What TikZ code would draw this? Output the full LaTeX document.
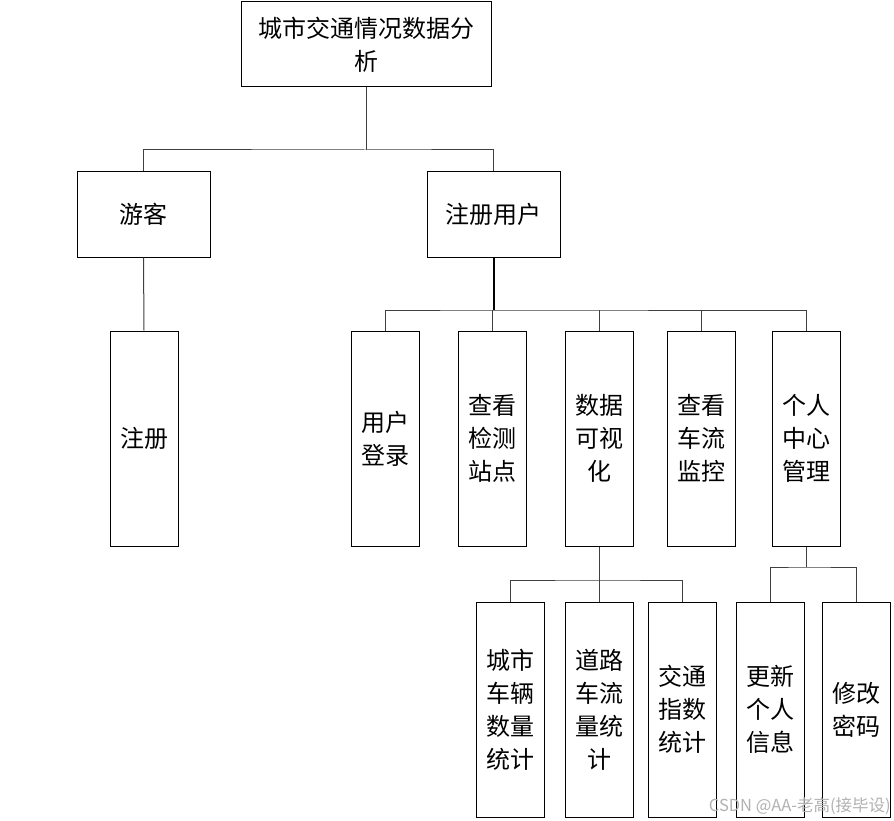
\documentclass[tikz,border=0pt]{standalone}
\usepackage{fontspec}
\newfontfamily\cjk{Noto Sans CJK SC}
\tikzset{
  box/.style={draw=black, line width=1pt, fill=white, inner sep=0pt, align=center,
    font=\cjk\fontsize{24}{33}\selectfont},
  wide/.style={box, minimum width=133pt, minimum height=85pt},
  tall/.style={box, minimum width=68pt, minimum height=215pt},
  conn/.style={draw=black!75, line width=1pt},
  trunk/.style={draw=black, line width=2pt},
}
\begin{document}
\begin{tikzpicture}[x=1pt,y=-1pt]
\useasboundingbox (0,0) rectangle (894,821);
\fill[white] (0,0) rectangle (894,821);
% nodes
\node[box, minimum width=250pt, minimum height=85pt] (top) at (366,44.5) {城市交通情况数据分\\析};
\node[wide] (yk) at (143.5,214.5) {游客};
\node[wide] (zcyh) at (493.5,214.5) {注册用户};
\node[tall] (zc) at (144,438.5) {注册};
\node[tall] (dl) at (385,438.5) {用户\\登录};
\node[tall] (zd) at (492,438.5) {查看\\检测\\站点};
\node[tall] (ks) at (599,438.5) {数据\\可视\\化};
\node[tall] (jk) at (701,438.5) {查看\\车流\\监控};
\node[tall] (gr) at (806,438.5) {个人\\中心\\管理};
\node[tall] (cl) at (510,709.5) {城市\\车辆\\数量\\统计};
\node[tall] (ll) at (599,709.5) {道路\\车流\\量统\\计};
\node[tall] (zs) at (682,709.5) {交通\\指数\\统计};
\node[tall] (xx) at (770,709.5) {更新\\个人\\信息};
\node[tall] (mm) at (856,709.5) {修改\\密码};
% branch points
\coordinate (b1) at (366,150);
\coordinate (b2) at (493.5,310);
\coordinate (b3) at (599,580);
\coordinate (b4) at (806,567);
% connectors
\draw[conn] (top.south) -- (b1);
\draw[conn] (yk.north) |- (b1) -| (zcyh.north);
\draw[conn] (yk.south) -- (zc.north);
\draw[trunk] (zcyh.south) -- (b2);
\draw[conn] (dl.north) |- (b2) -| (gr.north);
\draw[conn] (zd.north) -- (zd.north |- b2);
\draw[conn] (ks.north) -- (ks.north |- b2);
\draw[conn] (jk.north) -- (jk.north |- b2);
\draw[conn] (ks.south) -- (b3);
\draw[conn] (cl.north) |- (b3) -| (zs.north);
\draw[conn] (ll.north) -- (b3);
\draw[conn] (gr.south) -- (b4);
\draw[conn] (xx.north) |- (b4) -| (mm.north);
% watermark
\node[text=black!30, font=\cjk\fontsize{16.5}{18}\selectfont, anchor=east, inner sep=0pt] (wm) at (891,806) {CSDN @AA-老高(接毕设)};
\end{tikzpicture}
\end{document}
